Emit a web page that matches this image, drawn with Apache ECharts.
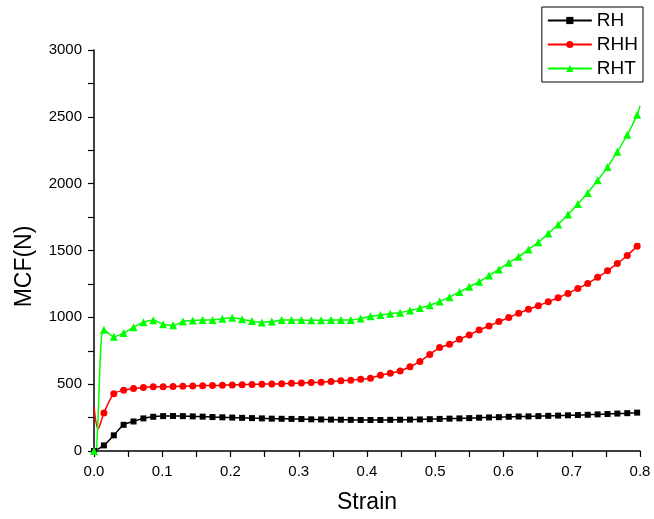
<!DOCTYPE html>
<html>
<head>
<meta charset="utf-8">
<script src="https://cdn.jsdelivr.net/npm/echarts@6/dist/echarts.min.js"></script>
<style>
  html, body { margin: 0; padding: 0; background: #fff; }
  #chart { width: 654px; height: 519px; }
</style>
</head>
<body>
<div id="chart"></div>
<script>
// strain of each marked point
var strain = [0, 0.0145, 0.029, 0.0434, 0.0579, 0.0724, 0.0868, 0.1013, 0.1158, 0.1302,
  0.1447, 0.1592, 0.1736, 0.1881, 0.2026, 0.217, 0.2315, 0.246, 0.2605, 0.2749,
  0.2894, 0.3039, 0.3183, 0.3328, 0.3473, 0.3617, 0.3762, 0.3907, 0.4051, 0.4196,
  0.4341, 0.4485, 0.463, 0.4775, 0.492, 0.5064, 0.5209, 0.5354, 0.5498, 0.5643,
  0.5788, 0.5932, 0.6077, 0.6222, 0.6366, 0.6511, 0.6656, 0.68, 0.6945, 0.709,
  0.7234, 0.7379, 0.7524, 0.7668, 0.7813, 0.7958];

var rh = [0, 42, 117, 196, 221, 244, 256, 261, 262, 261,
  259, 257, 254, 252, 250, 248, 246, 244, 242, 241,
  240, 239, 237, 236, 235, 234, 233, 232, 232, 232,
  233, 234, 235, 236, 238, 240, 242, 244, 246, 249,
  251, 253, 256, 258, 259, 261, 263, 265, 267, 269,
  271, 274, 277, 280, 283, 287];

var rhh = [330, 284, 428, 454, 468, 475, 480, 481, 482, 485,
  487, 489, 490, 492, 494, 496, 498, 500, 501, 503,
  506, 509, 512, 515, 520, 525, 530, 537, 545, 567,
  582, 599, 630, 670, 722, 774, 798, 836, 868, 905,
  935, 968, 998, 1030, 1060, 1087, 1117, 1147, 1179, 1216,
  1254, 1299, 1348, 1403, 1463, 1532];

var rht = [0, 908, 855, 882, 925, 963, 978, 948, 940, 968,
  977, 980, 980, 990, 996, 985, 972, 962, 968, 980,
  980, 980, 978, 978, 980, 980, 980, 992, 1008, 1017,
  1027, 1035, 1052, 1069, 1090, 1119, 1151, 1189, 1229, 1266,
  1313, 1358, 1408, 1453, 1507, 1562, 1627, 1694, 1769, 1848,
  1931, 2025, 2124, 2239, 2366, 2515];

// unmarked points at the start and at the end of each curve
var rhLead = [];
var rhhLead = [[0.006, 165]];
var rhtLead = [[0.0035, 5], [0.0105, 820]];
var endStrain = 0.8;
var rhEnd = 289, rhhEnd = 1552, rhtEnd = 2582;

function build(vals, lead, end, markFirst) {
  var out = [];
  out.push(markFirst ? [strain[0], vals[0]] : { value: [strain[0], vals[0]], symbol: 'none' });
  lead.forEach(function (p) {
    out.push({ value: p, symbol: 'none' });
  });
  for (var i = 1; i < vals.length; i++) {
    out.push([strain[i], vals[i]]);
  }
  out.push({ value: [endStrain, end], symbol: 'none' });
  return out;
}

var font = 'Liberation Sans, Arial, sans-serif';
var myChart = echarts.init(document.getElementById('chart'));
var option = {
  animation: false,
  backgroundColor: '#fff',
  textStyle: { fontFamily: font },
  grid: { left: 94, right: 14, top: 50, bottom: 67 },
  legend: {
    orient: 'vertical',
    right: 11,
    top: 7,
    padding: [4, 5, 4, 5],
    borderColor: '#000',
    borderWidth: 1,
    itemWidth: 44,
    itemHeight: 9,
    itemGap: 5,
    textStyle: { fontSize: 19, lineHeight: 19, color: '#000', fontFamily: font },
    data: ['RH', 'RHH', 'RHT']
  },
  xAxis: {
    type: 'value',
    min: 0,
    max: 0.8,
    interval: 0.1,
    name: 'Strain',
    nameLocation: 'middle',
    nameGap: 40,
    nameTextStyle: { fontSize: 23, color: '#000', fontFamily: font },
    axisLine: { lineStyle: { color: '#000', width: 1.5 } },
    axisTick: { show: true, inside: false, length: 6, lineStyle: { color: '#000', width: 1.2 } },
    minorTick: { show: true, splitNumber: 2, length: 6, lineStyle: { color: '#000', width: 1.2 } },
    axisLabel: {
      fontSize: 15, color: '#000', margin: 13, fontFamily: font,
      formatter: function (v) { return v.toFixed(1); }
    },
    splitLine: { show: false }
  },
  yAxis: {
    type: 'value',
    min: 0,
    max: 3000,
    interval: 500,
    name: 'MCF(N)',
    nameLocation: 'middle',
    nameGap: 58,
    nameTextStyle: { fontSize: 23, color: '#000', fontFamily: font, padding: [0, 32, 0, 0] },
    axisLine: { show: true, lineStyle: { color: '#000', width: 1.5 } },
    axisTick: { show: true, inside: false, length: 6, lineStyle: { color: '#000', width: 1.2 } },
    minorTick: { show: true, splitNumber: 2, length: 6, lineStyle: { color: '#000', width: 1.2 } },
    axisLabel: {
      fontSize: 15, color: '#000', margin: 12, fontFamily: font,
      formatter: function (v) { return String(v); }
    },
    splitLine: { show: false }
  },
  series: [
    {
      name: 'RH',
      type: 'line',
      data: build(rh, rhLead, rhEnd, true),
      smooth: 0.3,
      symbol: 'rect',
      symbolSize: 6,
      showAllSymbol: true,
      color: '#000000',
      lineStyle: { width: 1.5, color: '#000000' },
      itemStyle: { color: '#000000' }
    },
    {
      name: 'RHH',
      type: 'line',
      data: build(rhh, rhhLead, rhhEnd, false),
      smooth: 0.3,
      symbol: 'circle',
      symbolSize: 7,
      showAllSymbol: true,
      color: '#ff0000',
      lineStyle: { width: 1.5, color: '#ff0000' },
      itemStyle: { color: '#ff0000' }
    },
    {
      name: 'RHT',
      type: 'line',
      data: build(rht, rhtLead, rhtEnd, true),
      smooth: 0.3,
      symbol: 'triangle',
      symbolSize: 8,
      showAllSymbol: true,
      color: '#00ff00',
      lineStyle: { width: 1.5, color: '#00ff00' },
      itemStyle: { color: '#00ff00' }
    }
  ]
};
myChart.setOption(option);
</script>
</body>
</html>
